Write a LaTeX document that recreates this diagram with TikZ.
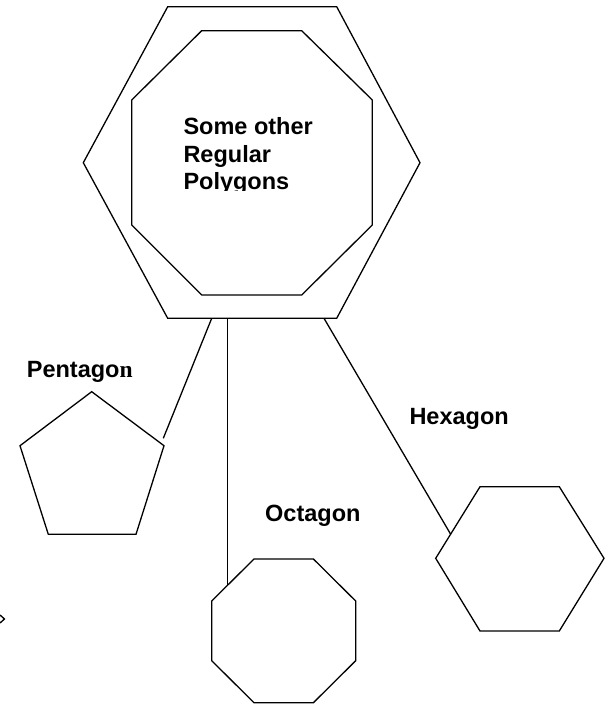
\documentclass[tikz,border=0pt]{standalone}
\usepackage{fontspec}
\setmainfont{Liberation Sans}
\newfontfamily\serifn{Liberation Serif}
\tikzset{
  shape line/.style={line width=1.3pt, line join=miter},
  label text/.style={anchor=base west, inner sep=0pt, font=\fontsize{23.5}{27.3}\selectfont\bfseries},
}
\begin{document}
\begin{tikzpicture}[x=1pt,y=1pt,yscale=-1,xscale=1]
\useasboundingbox (0,0) rectangle (613,704);

%Shape: Big hexagon
\draw[shape line] (167.7,6.7) -- (336.7,6.7) -- (420,162.7) -- (336.7,318.3) -- (167.7,318.3) -- (83.3,162.7) -- cycle ;
%Shape: Big octagon
\draw[shape line] (201.7,30.7) -- (301.7,30.7) -- (372.3,100) -- (372.3,225) -- (301.7,295) -- (201.7,295) -- (131.7,225) -- (131.7,100) -- cycle ;
%Shape: Pentagon
\draw[shape line] (91.7,391.7) -- (164,445.7) -- (136,534.3) -- (48.3,534.3) -- (20,445.7) -- cycle ;
%Shape: Octagon
\draw[shape line] (254,559) -- (313.4,559) -- (355.7,601) -- (355.7,660.7) -- (313.4,702.7) -- (254,702.7) -- (211.7,660.7) -- (211.7,601) -- cycle ;
%Shape: Hexagon
\draw[shape line] (480,486.7) -- (559.3,486.7) -- (604,558.3) -- (559.3,631) -- (480,631) -- (435.7,558.3) -- cycle ;
%Shape: small mark at left edge
\draw[shape line] (0,615) -- (4.5,619) -- (0,623) ;

%Connector ends
\coordinate (topP) at (211.7,318.3);
\coordinate (topO) at (227.7,318.3);
\coordinate (topH) at (324,318.3);
\coordinate (endP) at (163.3,438.3);
\coordinate (endO) at (227.7,584.5);
\coordinate (endH) at (450.7,534.3);
%Straight Lines
\draw[shape line] (topP) -- (endP) ;
\draw[shape line] (topO) -- (endO) ;
\draw[shape line] (topH) -- (endH) ;

% Text Node
\begin{scope}
\clip (132,40) rectangle (372,190.5);
\node[label text, align=left] (title) at (183.3,189.3) {Some other\\Regular\\Polygons};
\end{scope}
% Text Node
\node[label text] (pentagon) at (26.7,377.3) {Pentago{\serifn n}};
% Text Node
\node[label text] (hexagon) at (409.3,424.3) {Hexagon};
% Text Node
\node[label text] (octagon) at (265,521) {Octagon};
\end{tikzpicture}
\end{document}
